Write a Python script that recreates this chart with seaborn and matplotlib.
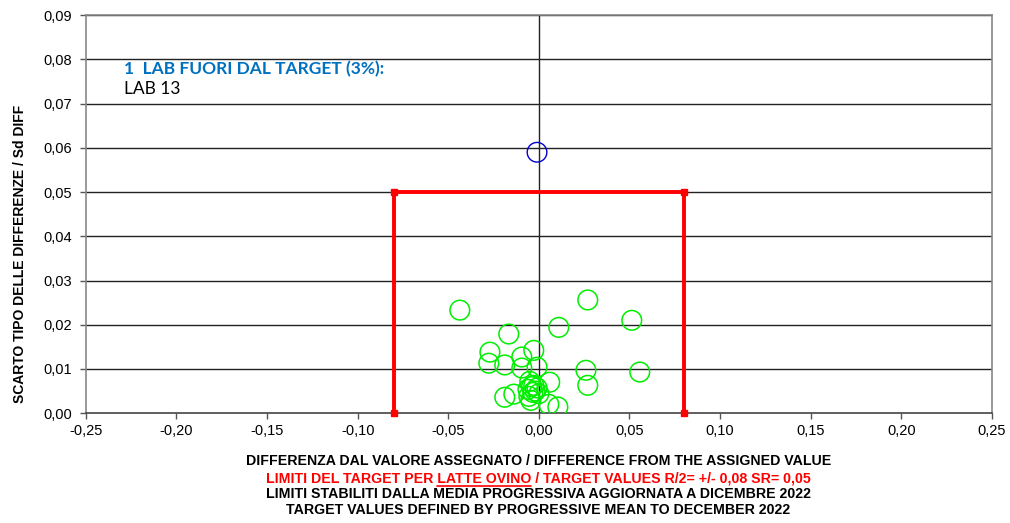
import matplotlib
matplotlib.use("Agg")
import matplotlib.pyplot as plt
import numpy as np
import pandas as pd
import seaborn as sns
from matplotlib.lines import Line2D
from matplotlib.ticker import FuncFormatter, MultipleLocator

# labs inside the target: difference from assigned value vs sd of differences
lab_diff = [
    -0.0436, 0.0270, 0.0513, 0.0110, -0.0166, -0.0270, -0.0276, -0.0188,
    -0.0094, -0.0028, -0.0010, -0.0094, 0.0260, 0.0270, 0.0557, -0.0188,
    -0.0138, 0.0105, 0.0055, 0.0060, -0.0050, -0.0028, -0.0060, -0.0033,
    -0.0055, -0.0010, -0.0044, -0.0040, -0.0020, 0.0000,
]
lab_sd = [
    0.0233, 0.0256, 0.0210, 0.0194, 0.0179, 0.0138, 0.0113, 0.0109,
    0.0127, 0.0142, 0.0104, 0.0102, 0.0097, 0.0063, 0.0093, 0.0036,
    0.0043, 0.0014, 0.0020, 0.0070, 0.0072, 0.0063, 0.0054, 0.0047,
    0.0038, 0.0057, 0.0029, 0.0060, 0.0050, 0.0044,
]

# lab outside the target
out_diff = [-0.0010]
out_sd = [0.0590]

# target box: R/2 = +/- 0.08, SR = 0.05
target_x = [-0.08, -0.08, 0.08, 0.08]
target_y = [0.0, 0.05, 0.05, 0.0]

y_ticks = np.arange(0.0, 0.0901, 0.01)

inside = pd.DataFrame({"diff": lab_diff, "sd": lab_sd})
outside = pd.DataFrame({"diff": out_diff, "sd": out_sd})

sns.set_style("white")
plt.rcParams["font.family"] = ["Liberation Sans", "DejaVu Sans"]
plt.rcParams["text.color"] = "black"
plt.rcParams["axes.labelcolor"] = "black"
plt.rcParams["xtick.color"] = "black"
plt.rcParams["ytick.color"] = "black"

fig = plt.figure(figsize=(10.10, 5.23), dpi=100)
ax = fig.add_axes([0.085, 0.21, 0.897, 0.761])

ax.set_xlim(-0.25, 0.25)
ax.set_ylim(0.0, 0.09)

# horizontal gridlines and the zero line
for yv in y_ticks[1:]:
    ax.axhline(yv, color="#222222", lw=1.0, zorder=1)
ax.axvline(0, color="#222222", lw=1.0, zorder=1)

ax.plot(target_x, target_y, color="#FF0000", lw=2.8, marker="s",
        markersize=5, zorder=3, clip_on=False)

sns.scatterplot(data=inside, x="diff", y="sd", ax=ax, s=200,
                facecolors="none", edgecolor="#00EE00", linewidth=1.1,
                zorder=4, legend=False)
sns.scatterplot(data=outside, x="diff", y="sd", ax=ax, s=200,
                facecolors="none", edgecolor="#0000CC", linewidth=1.0,
                zorder=4, legend=False)

fmt = FuncFormatter(lambda v, _: f"{v:.2f}".replace(".", ",").replace("-0,00", "0,00"))
ax.xaxis.set_major_locator(MultipleLocator(0.05))
ax.yaxis.set_major_locator(MultipleLocator(0.01))
ax.xaxis.set_major_formatter(fmt)
ax.yaxis.set_major_formatter(fmt)
ax.tick_params(axis="both", labelsize=10.5, length=4, width=1,
               color="#555555", labelcolor="black", direction="out",
               bottom=True, left=True)
ax.tick_params(axis="x", pad=4)
ax.tick_params(axis="y", pad=6)

for side, sp in ax.spines.items():
    sp.set_color("#888888")
    sp.set_linewidth(1.2)
ax.spines["bottom"].set_color("#444444")

ax.set_xlabel("")
ax.set_ylabel("SCARTO TIPO DELLE DIFFERENZE / Sd DIFF", fontsize=10,
              fontweight="bold")
ax.yaxis.set_label_coords(-0.065, 0.40)

ax.text(-0.229, 0.0767, "1  LAB FUORI DAL TARGET (3%):", color="#0070C0",
        fontsize=12.5, fontweight="bold", family=["Lato", "DejaVu Sans"])
ax.text(-0.229, 0.0721, "LAB 13", color="black", fontsize=12.5,
        family=["Lato", "DejaVu Sans"])

# bottom caption
cx = 0.533
fsz = 10.2
fig.text(cx, 0.118, "DIFFERENZA DAL VALORE ASSEGNATO / DIFFERENCE FROM THE ASSIGNED VALUE",
         ha="center", va="center", fontsize=fsz, fontweight="bold")
pre = "LIMITI DEL TARGET PER "
word = "LATTE OVINO"
red_line = pre + word + " / TARGET VALUES R/2= +/- 0,08 SR= 0,05"
t_red = fig.text(cx, 0.086, red_line, ha="center", va="center", fontsize=fsz,
                 fontweight="bold", color="#FF0000")
fig.text(cx, 0.055, "LIMITI STABILITI DALLA MEDIA PROGRESSIVA AGGIORNATA A DICEMBRE 2022",
         ha="center", va="center", fontsize=fsz, fontweight="bold")
fig.text(cx, 0.025, "TARGET VALUES DEFINED BY PROGRESSIVE MEAN TO DECEMBER 2022",
         ha="center", va="center", fontsize=fsz, fontweight="bold")

# underline "LATTE OVINO"
renderer = fig.canvas.get_renderer()
bb = t_red.get_window_extent(renderer)


def text_width(s):
    tmp = fig.text(0, 0, s, fontsize=fsz, fontweight="bold")
    w = tmp.get_window_extent(renderer).width
    tmp.remove()
    return w


x0 = bb.x0 + text_width(pre)
x1 = bb.x0 + text_width(pre + word)
uy = bb.y0 - 0.5
fig.add_artist(Line2D([x0 / fig.bbox.width, x1 / fig.bbox.width],
                      [uy / fig.bbox.height, uy / fig.bbox.height],
                      color="#FF0000", lw=1.2))

fig.savefig("out.png", dpi=100)
